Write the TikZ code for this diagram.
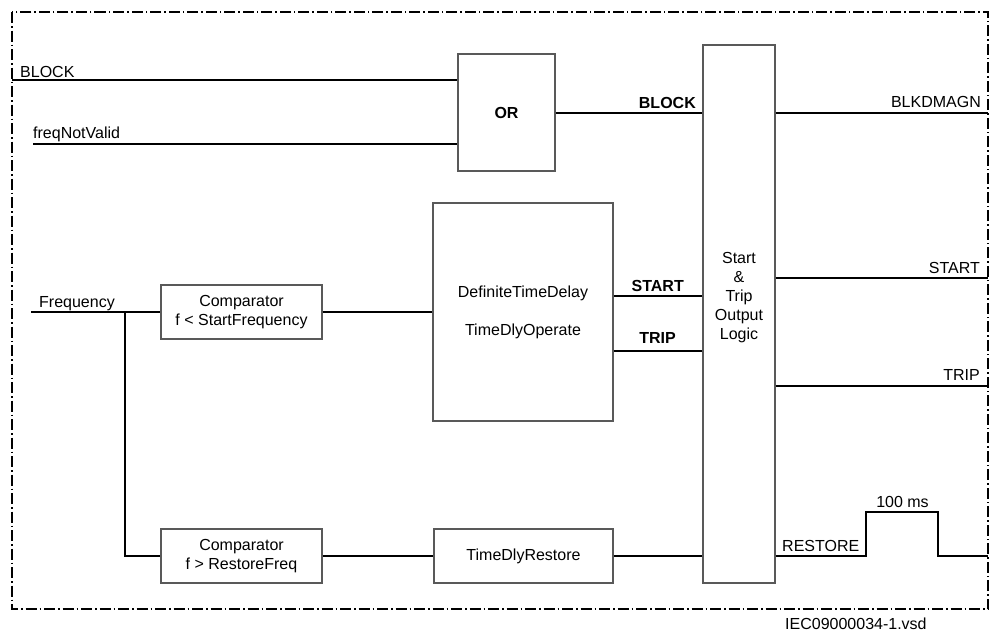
\documentclass[tikz,border=0pt]{standalone}
\usepackage{fontspec}
\setmainfont{Liberation Sans}
\begin{document}
\begin{tikzpicture}[x=1pt,y=-1pt,
  every node/.style={font=\fontsize{16}{19}\selectfont, inner sep=0pt},
  box/.style={draw=black!65, line width=1.3pt, fill=white, align=center},
  wire/.style={draw=black, line width=1.3pt},
  frm/.style={draw=black, line width=2pt, dash pattern=on 11pt off 3pt on 1.5pt off 3pt},
  lbl/.style={anchor=base west},
  rlbl/.style={anchor=base east},
  blbl/.style={anchor=base east, font=\fontsize{16}{19}\selectfont\bfseries}]
\useasboundingbox (0,0) rectangle (998,633);
\draw[frm] (12,12) rectangle (988,609);

% boxes
\node[box, minimum width=97pt, minimum height=117pt, font=\fontsize{16}{19}\selectfont\bfseries] (or) at (506.5,112.5) {OR};
\node[box, minimum width=72pt, minimum height=538pt] (logic) at (739,314) {};
\node[align=center] (logictxt) at (739,298) {Start\\\&\\Trip\\Output\\Logic};
\node[box, minimum width=161pt, minimum height=54pt] (cmp1) at (241.5,312) {Comparator\\f < StartFrequency};
\node[box, minimum width=180pt, minimum height=218pt] (dtd) at (523,312) {DefiniteTimeDelay\\[19pt]TimeDlyOperate};
\node[box, minimum width=161pt, minimum height=54pt] (cmp2) at (241.5,556) {Comparator\\f > RestoreFreq};
\node[box, minimum width=179pt, minimum height=54pt] (tdr) at (523.5,556) {TimeDlyRestore};

% coordinates
\coordinate (blkin) at (12,80);
\coordinate (fnvin) at (33,144);
\coordinate (fin) at (31,312);
\coordinate (br) at (125,312);
\coordinate (yor) at (0,113);
\coordinate (oblk) at (988,113);
\coordinate (ostart) at (988,278);
\coordinate (otrip) at (988,386);
\coordinate (ores) at (988,556);
\coordinate (p1) at (866,556);
\coordinate (p2) at (866,512);
\coordinate (p3) at (938,512);
\coordinate (p4) at (938,556);
\coordinate (ys) at (0,296);
\coordinate (yt) at (0,351);

% wires
\draw[wire] (blkin) -- (blkin -| or.west);
\draw[wire] (fnvin) -- (fnvin -| or.west);
\draw[wire] (or.east |- yor) -- (logic.west |- yor);
\draw[wire] (logic.east |- oblk) -- (oblk);
\draw[wire] (fin) -- (cmp1.west);
\draw[wire] (br) |- (cmp2.west);
\draw[wire] (cmp1.east) -- (dtd.west);
\draw[wire] (dtd.east |- ys) -- (logic.west |- ys);
\draw[wire] (dtd.east |- yt) -- (logic.west |- yt);
\draw[wire] (logic.east |- ostart) -- (ostart);
\draw[wire] (logic.east |- otrip) -- (otrip);
\draw[wire] (cmp2.east) -- (tdr.west);
\draw[wire] (tdr.east) -- (tdr.east -| logic.west);
\draw[wire] (logic.east |- p1) -- (p1) -- (p2) -- (p3) -- (p4) -- (ores);

% labels
\node[lbl] (lblock) at (20,77) {BLOCK};
\node[lbl] (lfnv) at (33,138) {freqNotValid};
\node[lbl] (lfreq) at (39,307) {Frequency};
\node[blbl] (lblk2) at (696,108) {BLOCK};
\node[rlbl] (lblkd) at (981,107) {BLKDMAGN};
\node[blbl] (lstart) at (684,291) {START};
\node[blbl] (ltrip) at (676,343) {TRIP};
\node[rlbl] (lostart) at (980,273) {START};
\node[rlbl] (lotrip) at (980,380) {TRIP};
\node[lbl] (lres) at (782,551) {RESTORE};
\node[anchor=base] (lms) at (902.5,507) {100 ms};
\node[lbl] (lfile) at (785,629) {IEC09000034-1.vsd};
\end{tikzpicture}
\end{document}
